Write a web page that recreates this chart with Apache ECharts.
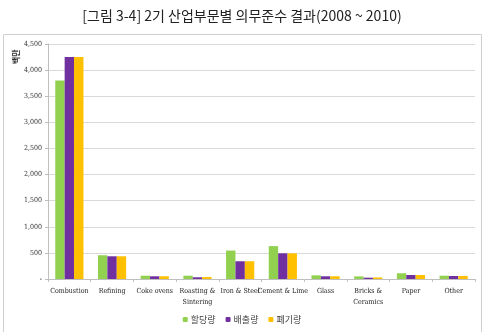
<!DOCTYPE html>
<html><head><meta charset="utf-8">
<script src="https://cdn.jsdelivr.net/npm/echarts@6/dist/echarts.min.js"></script>
<style>html,body{margin:0;padding:0;background:#fff}#c{width:484px;height:332px}</style>
</head><body><div id="c"></div>
<script>
const categories = ['Combustion','Refining','Coke ovens','Roasting &\nSintering','Iron & Steel','Cement & Lime','Glass','Bricks &\nCeramics','Paper','Other'];
const allocated = [3800, 455, 63, 63, 545, 630, 70, 50, 110, 63];
const emitted   = [4250, 435, 52, 33, 340, 492, 52, 25, 77, 57];
const surrendered = [4250, 435, 52, 38, 340, 492, 52, 30, 77, 57];
const seriesNames = ['할당량','배출량','폐기량'];
const yTicks = {min:0, max:4500, interval:500};

const chart = echarts.init(document.getElementById('c'));
const lblFont = '"DejaVu Serif Condensed","DejaVu Sans Condensed","Liberation Serif",serif';
chart.setOption({
  animation:false,
  title:{text:'[그림 3-4] 2기 산업부문별 의무준수 결과(2008 ~ 2010)', left:'center', top:4,
    textStyle:{fontFamily:'"Noto Sans CJK KR",sans-serif', fontSize:14, fontWeight:'normal', color:'#222'}},
  graphic:[
    {type:'rect', shape:{x:3.5,y:34.5,width:478,height:300}, style:{fill:'none',stroke:'#cfcfcf',lineWidth:1}, z:-1},
    {type:'text', x:12, y:64, rotation:Math.PI/2, style:{text:'백만', fontSize:8, fontFamily:'"Noto Sans CJK KR",sans-serif', fill:'#333', fontWeight:'bold'}}
  ],
  grid:{left:48,right:9,top:44,bottom:53},
  legend:{data:seriesNames, bottom:3, left:'center', itemWidth:5, itemHeight:5, itemGap:10,
    textStyle:{fontSize:9, color:'#444', fontFamily:'"Noto Sans CJK KR",sans-serif', padding:[0,0,0,-2]}},
  xAxis:{type:'category', data:categories,
    axisLine:{lineStyle:{color:'#bfbfbf'}},
    axisTick:{show:true, alignWithLabel:false, length:3, lineStyle:{color:'#bfbfbf'}},
    axisLabel:{fontSize:7, color:'#222', fontFamily:lblFont, interval:0, margin:7, lineHeight:11}},
  yAxis:{type:'value', min:yTicks.min, max:yTicks.max, interval:yTicks.interval,
    axisLine:{show:true, lineStyle:{color:'#bfbfbf'}},
    axisTick:{show:true, length:3, lineStyle:{color:'#bfbfbf'}},
    splitLine:{lineStyle:{color:'#d9d9d9'}},
    axisLabel:{fontSize:7, color:'#333', fontFamily:lblFont, margin:6,
      formatter:v=> v===0 ? '-' : v.toLocaleString('en-US')}},
  series:[
    {name:seriesNames[0], type:'bar', data:allocated, itemStyle:{color:'#92D050'}, barGap:'0%', barCategoryGap:'34%'},
    {name:seriesNames[1], type:'bar', data:emitted, itemStyle:{color:'#7030A0'}},
    {name:seriesNames[2], type:'bar', data:surrendered, itemStyle:{color:'#FFC000'}}
  ]
});
</script></body></html>
